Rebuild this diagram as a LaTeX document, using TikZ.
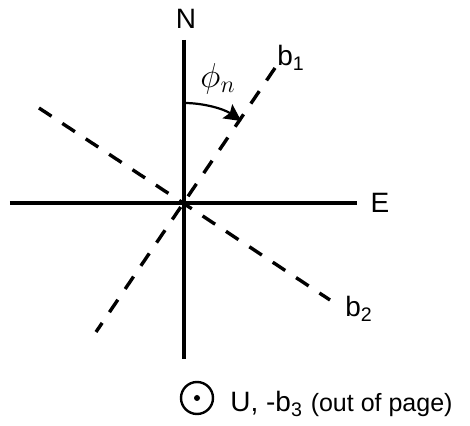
\documentclass[tikz,border=0pt]{standalone}
\usepackage{fontspec}
\setmainfont{Liberation Sans}
\usepackage{tikz}
\usetikzlibrary{positioning,calc,arrows.meta}
\tikzset{
  axis/.style    = {line width=1.8pt},
  baxis/.style   = {line width=1.7pt, dash pattern=on 7.5pt off 6.5pt},
  angarc/.style  = {line width=1.1pt, -{Stealth[length=8.5pt,width=8.5pt,inset=1.5pt]}},
  lbl/.style     = {font=\fontsize{14}{17}\selectfont, inner sep=0pt},
  odot/.style    = {circle, draw, line width=1.2pt, inner sep=0pt, minimum size=16pt},
  cdot/.style    = {circle, fill=black, inner sep=0pt, minimum size=3pt},
}

\begin{document}
\begin{tikzpicture}[x=0.5pt,y=0.5pt]
  \useasboundingbox (-184,-223) rectangle (286,203);
  \coordinate (o) at (0,0);
  \coordinate (nt) at (0,163);
  \coordinate (nb) at (0,-156);
  \coordinate (ew) at (-174,0);
  \coordinate (ee) at (173,0);
  \coordinate (b1t) at (91,135);
  \coordinate (b1b) at (-88,-129);
  \coordinate (b2t) at (-145,95);
  \coordinate (b2b) at (146,-97);
  % axes
  \draw[axis] (nt)--(nb);
  \draw[axis] (ew)--(ee);
  \draw[baxis] (b1t)--(b1b);
  \draw[baxis] (b2t)--(b2b);
  \draw[angarc] (0,100) arc[start angle=90, end angle=55, radius=100];
  % labels
  \node[lbl] (n) at (2,184) {N};
  \node[lbl] (e) at (196,0) {E};
  \node[lbl, anchor=base west] (b1) at (93,137) {b\textsubscript{1}};
  \node[lbl, anchor=base west] (b2) at (161,-114) {b\textsubscript{2}};
  \node[lbl, font=\fontsize{17}{20}\selectfont] (phi) at (34,124) {$\phi_n$};
  \node[odot] (u) at (13,-195) {};
  \node[cdot] (ud) at (u.center) {};
  \node[lbl, anchor=base west] (ulbl) at (46,-209)
    {U, -b\textsubscript{3} {\fontsize{12.5}{15}\selectfont (out of page)}};
\end{tikzpicture}
\end{document}
